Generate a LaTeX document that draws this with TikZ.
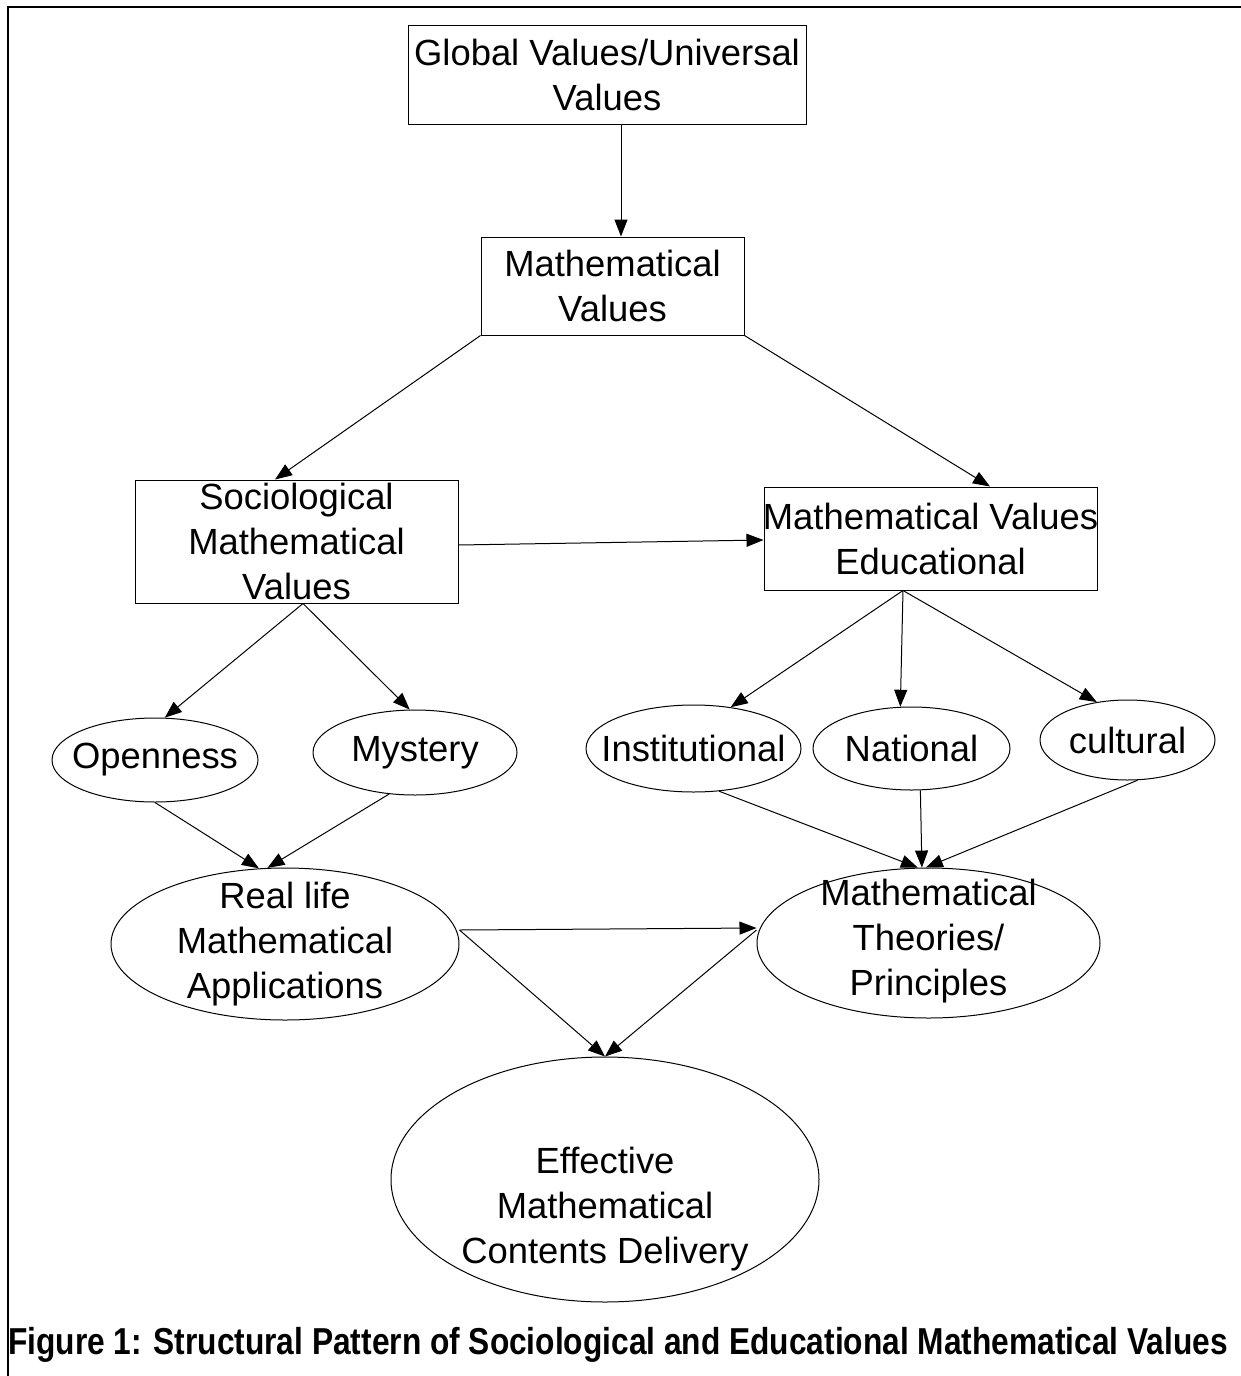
\documentclass[tikz,border=0pt]{standalone}
\usepackage{fontspec}
\usepackage{graphicx}
\setmainfont{Liberation Sans}
\usetikzlibrary{arrows.meta,shapes.geometric}
\begin{document}
\begin{tikzpicture}[x=1pt,y=-1pt,
  box/.style={draw,line width=1pt,rectangle,inner sep=0pt},
  ell/.style={draw,line width=1pt,ellipse,inner sep=0pt},
  txt/.style={align=center,inner sep=0pt,font=\fontsize{36.4}{45}\selectfont},
  arr/.style={line width=1pt,-{Triangle[length=17pt,width=13pt]}},
  frameline/.style={line width=2.5pt}]
\useasboundingbox (0,0) rectangle (1241,1376);
\draw[frameline] (1241,7) -- (8,7) -- (8,1376);

% shapes
\node[box,minimum width=398pt,minimum height=99pt] (glob) at (607,74.5) {};
\node[box,minimum width=263pt,minimum height=98pt] (math) at (612.5,286) {};
\node[box,minimum width=323pt,minimum height=123pt] (soc) at (296.5,541.5) {};
\node[box,minimum width=333pt,minimum height=103pt] (edu) at (930.5,538.5) {};
\node[ell,minimum width=206pt,minimum height=84pt] (open) at (155,760) {};
\node[ell,minimum width=204pt,minimum height=85pt] (myst) at (415,752.5) {};
\node[ell,minimum width=215pt,minimum height=87pt] (inst) at (693.5,748.5) {};
\node[ell,minimum width=197pt,minimum height=83pt] (nat) at (911.5,748.5) {};
\node[ell,minimum width=175pt,minimum height=80pt] (cult) at (1127.5,740) {};
\node[ell,minimum width=348pt,minimum height=152pt] (real) at (285,944) {};
\node[ell,minimum width=343pt,minimum height=150pt] (theo) at (928.5,943) {};
\node[ell,minimum width=428pt,minimum height=245pt] (eff) at (605,1179.5) {};

% texts
\node[txt] (globt) at (glob) {Global Values/Universal\\Values};
\node[txt] (matht) at (math) {Mathematical\\Values};
\node[txt] (soct) at (soc) {Sociological\\Mathematical\\Values};
\node[txt] (edut) at (edu) {Mathematical Values\\Educational};
\node[txt] (opent) at (open) {Openness};
\node[txt] (mystt) at (myst) {Mystery};
\node[txt] (instt) at (inst) {Institutional};
\node[txt] (natt) at (nat) {National};
\node[txt] (cultt) at (cult) {cultural};
\node[txt] (realt) at (real) {Real life\\Mathematical\\Applications};
\node[txt] (theot) at ([yshift=1.5pt]theo.center) {Mathematical\\Theories/\\Principles};
\node[txt] (efft) at ([yshift=-30pt]eff.center) {Effective\\Mathematical\\Contents Delivery};

% connectors
\draw[arr] (glob.south -| 621,0) -- (math.north -| 621,0);
\draw[arr] (math.south west) -- (soc.north -| 275,0);
\draw[arr] (math.south east) -- (edu.north -| 990,0);
\draw[arr] (soc.east |- 0,545) -- (edu.west |- 0,540);
\draw[arr] (soc.south -| 303,0) -- (open.77);
\draw[arr] (soc.south -| 303,0) -- (myst.97);
\draw[arr] (edu.south -| 903,0) -- (inst.48);
\draw[arr] (edu.south -| 903,0) -- (nat.105);
\draw[arr] (edu.south -| 903,0) -- (cult.129);
\draw[arr] (open.south) -- (real.109);
\draw[arr] (myst.238) -- (real.103);
\draw[arr] (inst.301) -- (theo.98);
\draw[arr] (nat.282) -- (theo.95);
\draw[arr] (cult.284) -- (theo.92);
\draw[arr] (real.east |- 0,930) -- (theo.west |- 0,928);
\draw[arr] (real.east |- 0,930) -- (eff.north);
\draw[arr] (theo.west |- 0,930) -- (eff.north);

% caption
\node[anchor=base west,inner sep=0pt,font=\bfseries\fontsize{37.5}{45}\selectfont] (cap) at (8,1354)
  {\scalebox{0.845}[1]{Figure 1: Structural Pattern of Sociological and Educational Mathematical Values}};
\end{tikzpicture}
\end{document}
